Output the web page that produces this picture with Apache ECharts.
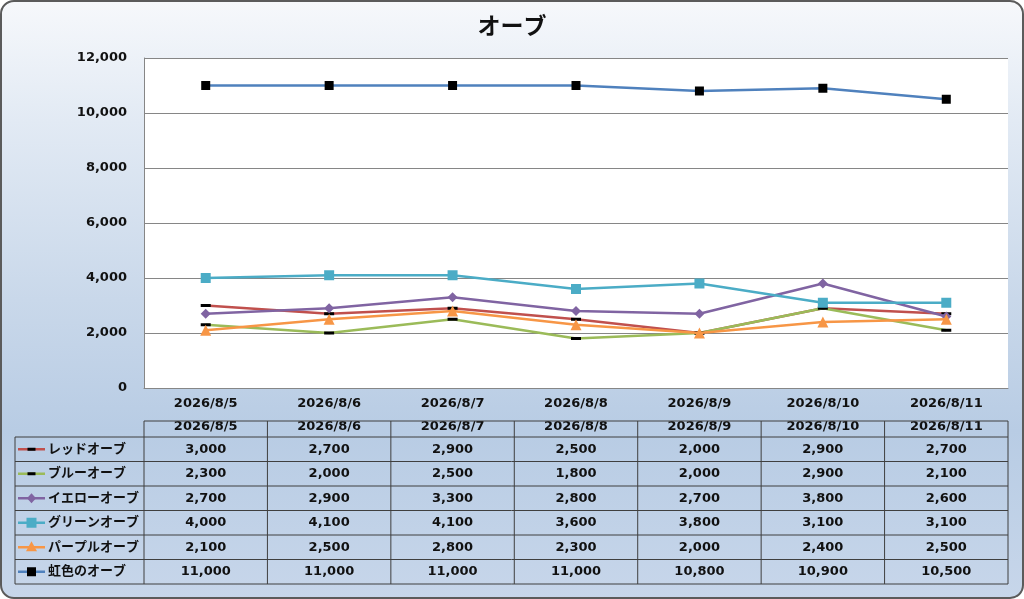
<!DOCTYPE html>
<html>
<head>
<meta charset="utf-8">
<script src="https://cdn.jsdelivr.net/npm/echarts@6/dist/echarts.min.js"></script>
<style>
  html, body { margin: 0; padding: 0; background: #ffffff; }
  #bg {
    position: absolute; left: 0; top: 0;
    width: 1024px; height: 599px; box-sizing: border-box;
    border: 2px solid #5b5b5b; border-radius: 14px;
    background: linear-gradient(to bottom, #f6f8fb 0%, #e2eaf4 20%, #c9d8ea 50%, #b8cce4 72%, #c7d6ea 100%);
  }
  #main { position: absolute; left: 0; top: 0; width: 1024px; height: 599px; }
</style>
</head>
<body>
<div id="bg"></div>
<div id="main"></div>
<script>
// データ
const dates = ['2026/8/5', '2026/8/6', '2026/8/7', '2026/8/8', '2026/8/9', '2026/8/10', '2026/8/11'];
const seriesNames = ['レッドオーブ', 'ブルーオーブ', 'イエローオーブ', 'グリーンオーブ', 'パープルオーブ', '虹色のオーブ'];
const redOrb = [3000, 2700, 2900, 2500, 2000, 2900, 2700];
const blueOrb = [2300, 2000, 2500, 1800, 2000, 2900, 2100];
const yellowOrb = [2700, 2900, 3300, 2800, 2700, 3800, 2600];
const greenOrb = [4000, 4100, 4100, 3600, 3800, 3100, 3100];
const purpleOrb = [2100, 2500, 2800, 2300, 2000, 2400, 2500];
const rainbowOrb = [11000, 11000, 11000, 11000, 10800, 10900, 10500];
const yTicks = [0, 2000, 4000, 6000, 8000, 10000, 12000];

const FONT = '"DejaVu Sans", "Noto Sans CJK JP", sans-serif';
const seriesData = [redOrb, blueOrb, yellowOrb, greenOrb, purpleOrb, rainbowOrb];
// 線の色とマーカー
const lineColors = ['#c0504d', '#9bbb59', '#8064a2', '#4bacc6', '#f79646', '#4f81bd'];
const markers = [
  { symbol: 'rect', size: [10, 3], color: '#000000' },
  { symbol: 'rect', size: [10, 3], color: '#000000' },
  { symbol: 'diamond', size: 10, color: '#8064a2' },
  { symbol: 'rect', size: 10, color: '#4bacc6' },
  { symbol: 'triangle', size: 11, color: '#f79646' },
  { symbol: 'rect', size: 9, color: '#000000' }
];

const chart = echarts.init(document.getElementById('main'));

// レイアウト
const plotLeft = 144, plotRight = 1008, plotTop = 58, plotBottom = 388;
const colW = (plotRight - plotLeft) / dates.length;
const tableTop = 421, headerBottom = 437, rowH = 24.5, legendLeft = 15;
const tableBottom = headerBottom + rowH * seriesNames.length;
const fmt = v => v.toLocaleString('en-US');
const txtFont = 'bold 13px ' + FONT;

// データテーブル
const graphics = [];
const lineStyle = { stroke: '#3f3f3f', lineWidth: 1 };
graphics.push({ type: 'line', shape: { x1: plotLeft, y1: tableTop, x2: plotRight, y2: tableTop }, style: lineStyle, z: 10 });
for (let k = 0; k <= seriesNames.length; k++) {
  const y = headerBottom + k * rowH;
  graphics.push({ type: 'line', shape: { x1: legendLeft, y1: y, x2: plotRight, y2: y }, style: lineStyle, z: 10 });
}
graphics.push({ type: 'line', shape: { x1: legendLeft, y1: headerBottom, x2: legendLeft, y2: tableBottom }, style: lineStyle, z: 10 });
for (let j = 0; j <= dates.length; j++) {
  const x = plotLeft + j * colW;
  graphics.push({ type: 'line', shape: { x1: x, y1: tableTop, x2: x, y2: tableBottom }, style: lineStyle, z: 10 });
}
dates.forEach((d, j) => {
  graphics.push({
    type: 'text', x: plotLeft + (j + 0.5) * colW, y: 427, z: 9,
    style: { text: d, font: txtFont, fill: '#111', align: 'center', verticalAlign: 'middle' }
  });
});
seriesNames.forEach((name, i) => {
  const cy = headerBottom + (i + 0.5) * rowH;
  const m = markers[i];
  graphics.push({ type: 'line', shape: { x1: 18, y1: cy, x2: 45, y2: cy }, style: { stroke: lineColors[i], lineWidth: 2.5 }, z: 11 });
  if (m.symbol === 'rect') {
    const w = Array.isArray(m.size) ? m.size[0] - 2 : m.size;
    const h = Array.isArray(m.size) ? m.size[1] : m.size;
    graphics.push({ type: 'rect', shape: { x: 31.5 - w / 2, y: cy - h / 2, width: w, height: h }, style: { fill: m.color }, z: 12 });
  } else if (m.symbol === 'diamond') {
    graphics.push({ type: 'polygon', shape: { points: [[31.5, cy - 5], [36, cy], [31.5, cy + 5], [27, cy]] }, style: { fill: m.color }, z: 12 });
  } else {
    graphics.push({ type: 'polygon', shape: { points: [[31.5, cy - 6], [37, cy + 4], [26, cy + 4]] }, style: { fill: m.color }, z: 12 });
  }
  graphics.push({
    type: 'text', x: 48, y: cy, z: 12,
    style: { text: name, font: txtFont, fill: '#111', align: 'left', verticalAlign: 'middle' }
  });
  seriesData[i].forEach((v, j) => {
    graphics.push({
      type: 'text', x: plotLeft + (j + 0.5) * colW, y: cy, z: 12,
      style: { text: fmt(v), font: txtFont, fill: '#111', align: 'center', verticalAlign: 'middle' }
    });
  });
});

const option = {
  animation: false,
  title: {
    text: 'オーブ', left: 'center', top: 9,
    textStyle: { fontFamily: '"Noto Sans CJK JP", sans-serif', fontSize: 23, fontWeight: 'bold', color: '#111' }
  },
  grid: {
    left: plotLeft, right: 1024 - plotRight, top: plotTop, bottom: 599 - plotBottom,
    show: true, backgroundColor: '#ffffff', borderWidth: 0
  },
  xAxis: {
    type: 'category', data: dates, boundaryGap: true,
    axisLine: { lineStyle: { color: '#868686', width: 1 } },
    axisTick: { show: false },
    axisLabel: { color: '#111', fontFamily: FONT, fontWeight: 'bold', fontSize: 13, margin: 9, interval: 0 }
  },
  yAxis: {
    type: 'value', min: yTicks[0], max: yTicks[yTicks.length - 1], interval: yTicks[1] - yTicks[0],
    axisLine: { show: true, lineStyle: { color: '#868686', width: 1 } },
    axisTick: { show: false },
    axisLabel: { color: '#111', fontFamily: FONT, fontWeight: 'bold', fontSize: 13, margin: 17, formatter: v => fmt(v) },
    splitLine: { lineStyle: { color: '#868686', width: 1 } }
  },
  series: seriesNames.map((name, i) => ({
    name: name, type: 'line', data: seriesData[i],
    symbol: markers[i].symbol, symbolSize: markers[i].size, showSymbol: true,
    lineStyle: { color: lineColors[i], width: 2.5 },
    itemStyle: { color: markers[i].color, borderWidth: 0 },
    z: 3 + i
  })),
  graphic: graphics
};

option && chart.setOption(option);
</script>
</body>
</html>
